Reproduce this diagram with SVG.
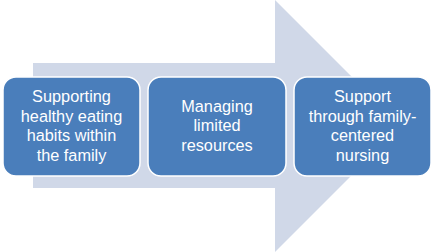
<svg xmlns="http://www.w3.org/2000/svg" width="433" height="252" viewBox="0 0 433 252">
<style>
.box{fill:#4a7ebb;stroke:#ffffff;stroke-width:1.5}
.t{font-family:"Liberation Sans",Arial,sans-serif;font-size:16.3px;fill:#ffffff;text-anchor:middle}
</style>
<rect width="433" height="252" fill="#ffffff"/>
<g id="connectors">
<polygon points="33,63 275,63 275,0 401,126 275,252 275,188 33,188" fill="#d0d8e8"/>
</g>
<g id="node1">
<rect class="box" x="3" y="77" width="137" height="99" rx="13"/>
<text class="t" x="71.5" y="102">Supporting</text>
<text class="t" x="71.5" y="121.5">healthy eating</text>
<text class="t" x="71.5" y="141">habits within</text>
<text class="t" x="71.5" y="160.5">the family</text>
</g>
<g id="node2">
<rect class="box" x="148" y="77" width="138" height="99" rx="13"/>
<text class="t" x="217" y="111.5">Managing</text>
<text class="t" x="217" y="131">limited</text>
<text class="t" x="217" y="150.5">resources</text>
</g>
<g id="node3">
<rect class="box" x="294" y="77" width="137" height="99" rx="13"/>
<text class="t" x="362.5" y="102">Support</text>
<text class="t" x="362.5" y="121.5">through family-</text>
<text class="t" x="362.5" y="141">centered</text>
<text class="t" x="362.5" y="160.5">nursing</text>
</g>
</svg>
